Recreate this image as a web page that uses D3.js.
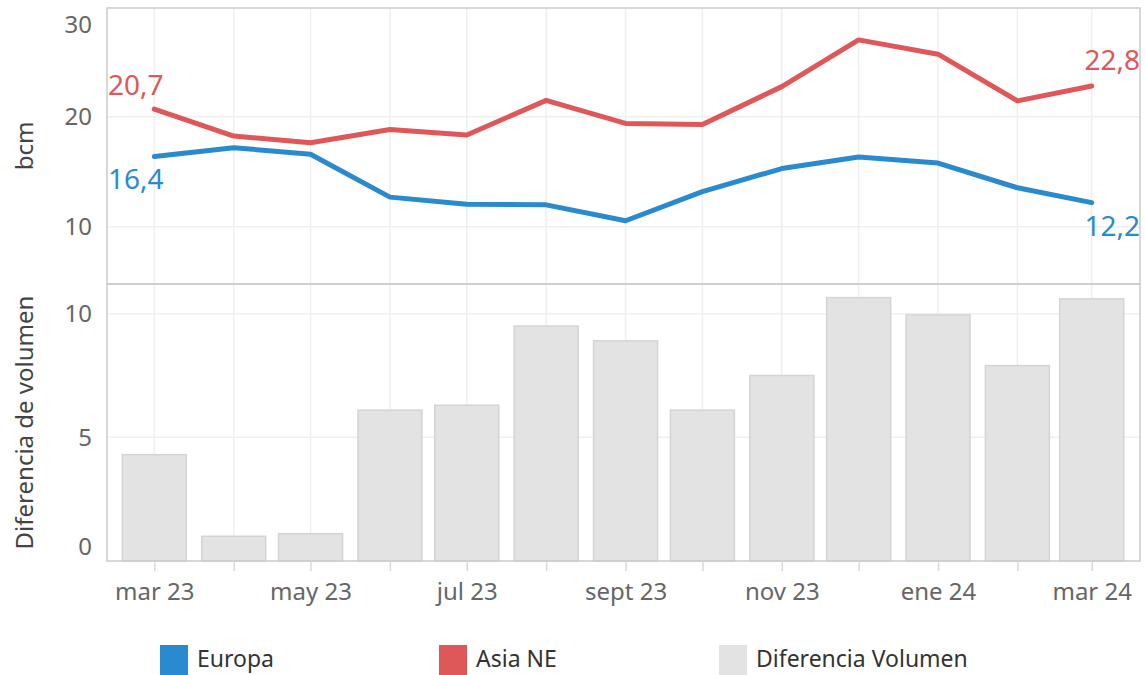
<!DOCTYPE html>
<html>
<head>
<meta charset="utf-8">
<script src="https://cdn.jsdelivr.net/npm/d3@7"></script>
<style>
  html, body { margin: 0; padding: 0; background: #fff; }
  svg { display: block; font-family: "Noto Sans", "Liberation Sans", sans-serif; }
</style>
</head>
<body>
<svg id="chart" width="1145" height="675"></svg>
<script>
// ---- data ----
const months = ["2023-03-01","2023-04-01","2023-05-01","2023-06-01","2023-07-01","2023-08-01","2023-09-01","2023-10-01","2023-11-01","2023-12-01","2024-01-01","2024-02-01","2024-03-01"];
const monthLabels = ["mar 23","abr 23","may 23","jun 23","jul 23","ago 23","sept 23","oct 23","nov 23","dic 23","ene 24","feb 24","mar 24"];
const europa = [16.4, 17.2, 16.6, 12.7, 12.05, 12.0, 10.55, 13.2, 15.3, 16.35, 15.8, 13.55, 12.2];
const asiaNE = [20.7, 18.25, 17.65, 18.85, 18.35, 21.5, 19.4, 19.3, 22.75, 27.0, 25.7, 21.45, 22.8];
const diferencia = [4.3, 1.0, 1.1, 6.1, 6.3, 9.5, 8.9, 6.1, 7.5, 10.65, 9.95, 7.9, 10.6];
const topTicks = [10, 20, 30];
const bottomTicks = [0, 5, 10];
const seriesNames = ["Europa", "Asia NE", "Diferencia Volumen"];

// ---- layout ----
const colors = { europa: "#2a8acf", asia: "#e05759", bar: "#e3e3e3", barStroke: "#d4d4d4" };
const L = 107, R = 1140;
const topY0 = 8, topY1 = 284, botY0 = 284, botY1 = 561;

const parse = d3.utcParse("%Y-%m-%d");
const dates = months.map(parse);

const base = d3.scaleUtc().domain([dates[0], dates[dates.length - 1]]).range([154.3, 1091.7]);
const x = d3.scaleUtc().domain([base.invert(L), base.invert(R)]).range([L, R]);

const yTop = d3.scaleLinear().domain([4.8, 29.9]).range([topY1, topY0]);
const yBot = d3.scaleLinear().domain([0, 11.2]).range([botY1, botY0]);

const svg = d3.select("#chart");

// gridlines
const grid = svg.append("g").attr("stroke", "#efefef").attr("stroke-width", 1.5);
dates.forEach(d => {
  grid.append("line").attr("x1", x(d)).attr("x2", x(d)).attr("y1", topY0).attr("y2", topY1);
  grid.append("line").attr("x1", x(d)).attr("x2", x(d)).attr("y1", botY0).attr("y2", botY1);
});
topTicks.filter(t => yTop(t) > topY0 && yTop(t) < topY1).forEach(t => {
  grid.append("line").attr("x1", L).attr("x2", R).attr("y1", yTop(t)).attr("y2", yTop(t));
});
bottomTicks.filter(t => yBot(t) > botY0 + 1 && yBot(t) < botY1 - 1).forEach(t => {
  grid.append("line").attr("x1", L).attr("x2", R).attr("y1", yBot(t)).attr("y2", yBot(t));
});

// bars
const barW = 64;
svg.append("g").selectAll("rect").data(diferencia).join("rect")
  .attr("x", (d, i) => x(dates[i]) - barW / 2)
  .attr("width", barW)
  .attr("y", d => yBot(d))
  .attr("height", d => yBot(0) - yBot(d))
  .attr("fill", colors.bar)
  .attr("stroke", colors.barStroke)
  .attr("stroke-width", 1.5);

// lines
const line = d3.line().x((d, i) => x(dates[i])).y(d => yTop(d));
[[europa, colors.europa], [asiaNE, colors.asia]].forEach(([vals, c]) => {
  svg.append("path").datum(vals).attr("d", line)
    .attr("fill", "none").attr("stroke", c).attr("stroke-width", 5)
    .attr("stroke-linejoin", "round").attr("stroke-linecap", "round");
});

// frames
const frame = svg.append("g").attr("fill", "none").attr("stroke", "#cbcbcb").attr("stroke-width", 1.5);
frame.append("rect").attr("x", L).attr("y", topY0).attr("width", R - L).attr("height", topY1 - topY0);
frame.append("rect").attr("x", L).attr("y", botY0).attr("width", R - L).attr("height", botY1 - botY0);

// y axes
function styleYAxis(g, scale, minY, maxY) {
  g.select(".domain").remove();
  g.selectAll(".tick line").remove();
  g.selectAll(".tick text")
    .attr("x", -15)
    .attr("fill", "#666")
    .style("font-size", "24px")
    .attr("y", function(t) {
      const yy = scale(t);
      const c = Math.min(Math.max(yy, minY), maxY);
      return c - yy;
    });
}
svg.append("g").attr("transform", `translate(${L},0)`)
  .call(d3.axisLeft(yTop).tickValues(topTicks).tickFormat(d3.format("d")))
  .call(g => styleYAxis(g, yTop, topY0 + 17, topY1 - 14));
svg.append("g").attr("transform", `translate(${L},0)`)
  .call(d3.axisLeft(yBot).tickValues(bottomTicks).tickFormat(d3.format("d")))
  .call(g => styleYAxis(g, yBot, botY0 + 17, botY1 - 14));
svg.selectAll(".tick text").style("font-family", "'Noto Sans', sans-serif");

// x axis
const xAxis = d3.axisBottom(x).tickValues(dates).tickSize(10).tickPadding(12)
  .tickFormat((d, i) => i % 2 === 0 ? monthLabels[i] : "");
svg.append("g").attr("transform", `translate(0,${botY1})`).call(xAxis)
  .call(g => {
    g.select(".domain").remove();
    g.selectAll(".tick line").attr("stroke", "#d9d9d9").attr("stroke-width", 1.5);
    g.selectAll(".tick text").attr("fill", "#666").style("font-size", "24px")
      .style("font-family", "'Noto Sans', sans-serif");
  });

// axis titles
svg.append("text").attr("transform", `translate(33,${(topY0 + topY1) / 2}) rotate(-90)`)
  .attr("text-anchor", "middle").attr("fill", "#444").style("font-size", "24px").text("bcm");
svg.append("text").attr("transform", `translate(33,${(botY0 + botY1) / 2}) rotate(-90)`)
  .attr("text-anchor", "middle").attr("fill", "#444").style("font-size", "24px").text("Diferencia de volumen");

// end labels
const fmt = v => d3.format(".1f")(v).replace(".", ",");
const n = dates.length - 1;
svg.append("text").attr("x", L + 1).attr("y", yTop(asiaNE[0]) - 14).attr("fill", colors.asia)
  .style("font-size", "28px").text(fmt(asiaNE[0]));
svg.append("text").attr("x", L + 1).attr("y", yTop(europa[0]) + 33).attr("fill", colors.europa)
  .style("font-size", "28px").text(fmt(europa[0]));
svg.append("text").attr("x", R).attr("text-anchor", "end").attr("y", yTop(asiaNE[n]) - 16).attr("fill", colors.asia)
  .style("font-size", "28px").text(fmt(asiaNE[n]));
svg.append("text").attr("x", R).attr("text-anchor", "end").attr("y", yTop(europa[n]) + 33).attr("fill", colors.europa)
  .style("font-size", "28px").text(fmt(europa[n]));

// legend
const legendX = [160, 439, 719];
const legendColors = [colors.europa, colors.asia, colors.bar];
const lg = svg.append("g");
seriesNames.forEach((name, i) => {
  lg.append("rect").attr("x", legendX[i]).attr("y", 645).attr("width", 28).attr("height", 32).attr("fill", legendColors[i]);
  lg.append("text").attr("x", legendX[i] + 37).attr("y", 667).attr("fill", "#333")
    .style("font-size", "23px").text(name);
});
</script>
</body>
</html>
